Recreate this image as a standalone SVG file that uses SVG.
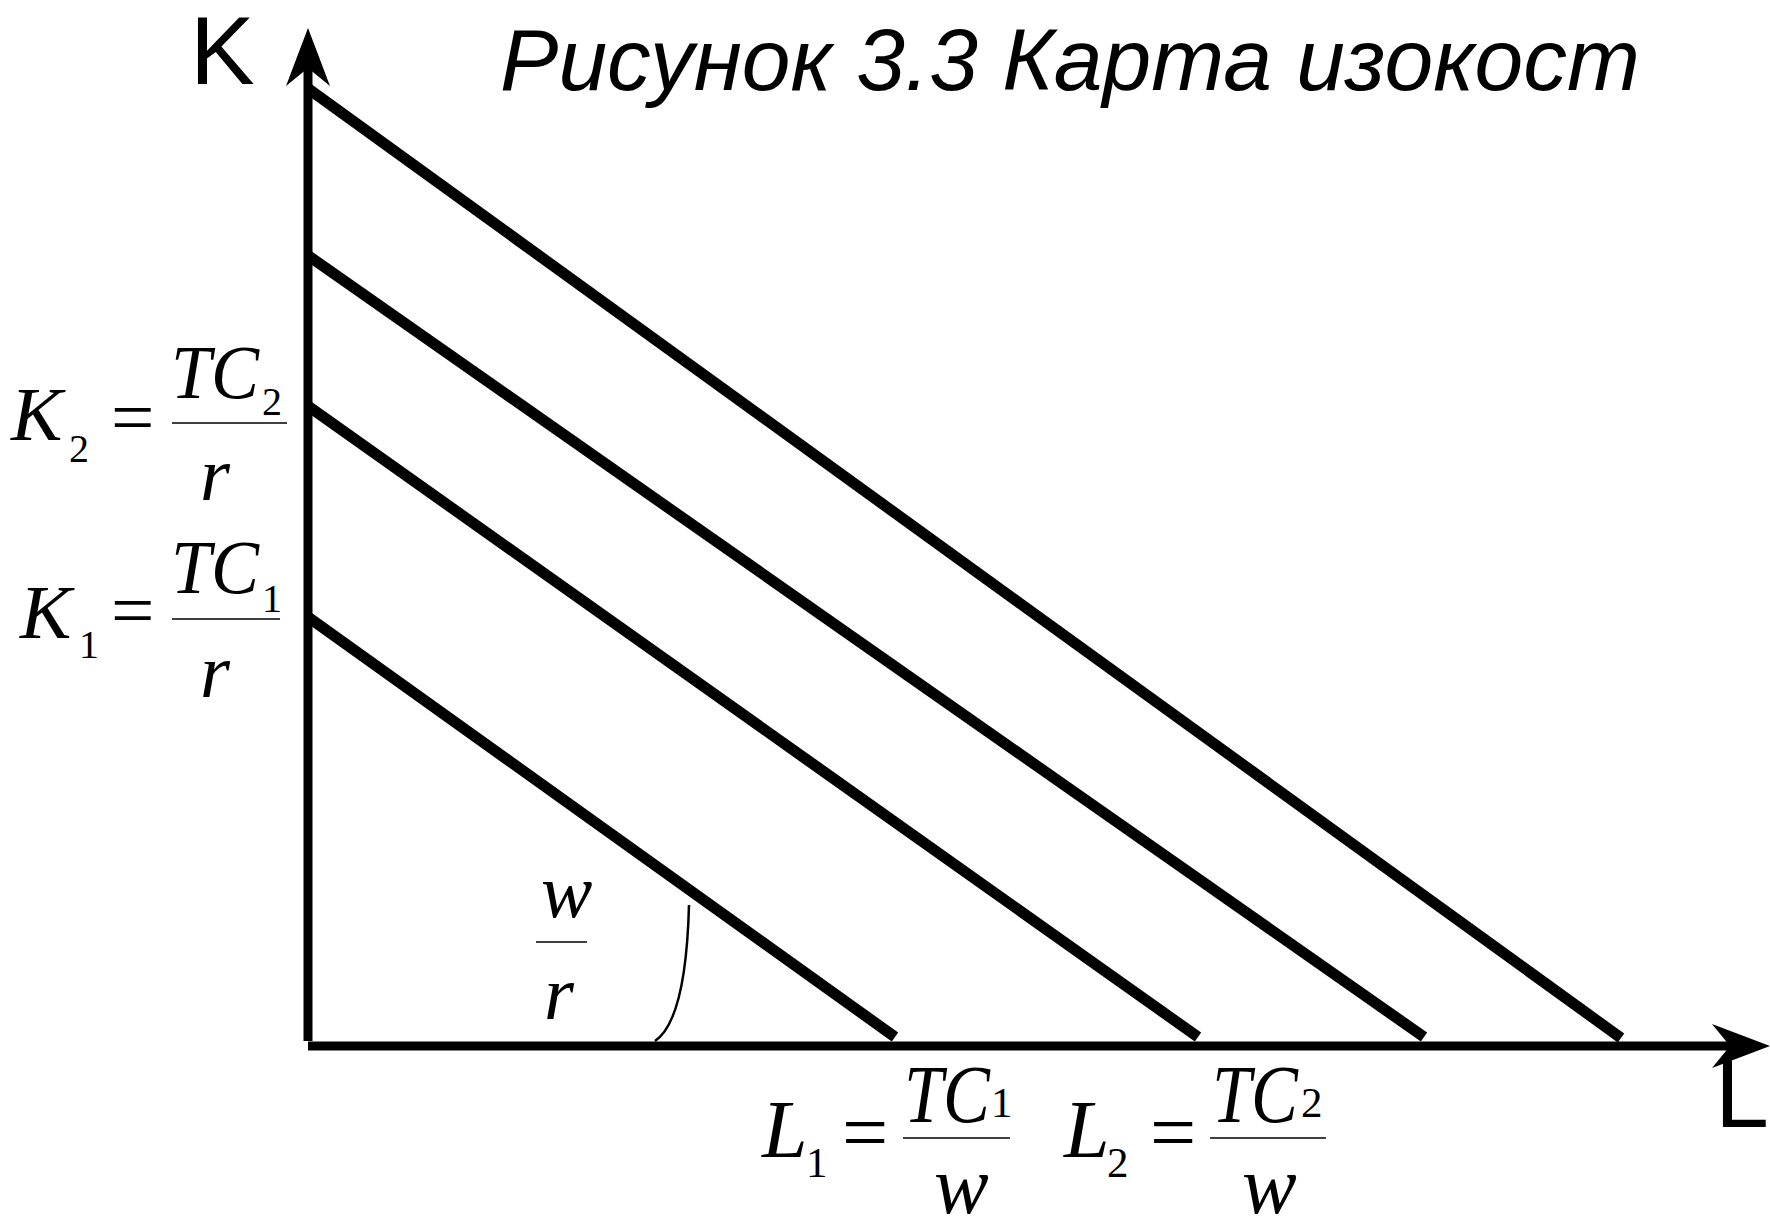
<svg xmlns="http://www.w3.org/2000/svg" width="1770" height="1218" viewBox="0 0 1770 1218">
<style>
.ax{stroke:#000;stroke-width:9;fill:none}
.iso{stroke:#000;stroke-width:11;fill:none;stroke-linecap:butt}
.thin{stroke:#000;stroke-width:1.6;fill:none}
.arc{stroke:#000;stroke-width:2.5;fill:none}
.m{font-family:"Liberation Serif","Times New Roman",serif;font-style:italic;font-size:77px;fill:#000}
.mu{font-family:"Liberation Serif","Times New Roman",serif;font-size:77px;fill:#000}
.s{font-family:"Liberation Serif","Times New Roman",serif;font-size:40px;fill:#000}
.mb{font-family:"Liberation Serif","Times New Roman",serif;font-style:italic;font-size:82px;fill:#000}
.mub{font-family:"Liberation Serif","Times New Roman",serif;font-size:82px;fill:#000}
.sb{font-family:"Liberation Serif","Times New Roman",serif;font-size:43px;fill:#000}
.axl{font-family:"Liberation Sans",Arial,sans-serif;font-size:97px;fill:#000}
.title{font-family:"Liberation Sans",Arial,sans-serif;font-style:italic;font-size:87px;fill:#000}
</style>
<defs>
<marker id="arr" markerUnits="userSpaceOnUse" viewBox="0 0 58 44" refX="18" refY="22" markerWidth="58" markerHeight="44" orient="auto">
<path d="M0,0 L58,22 L0,44 L18,22 Z" fill="#000"/>
</marker>
</defs>
<g id="title"><text class="title" x="500" y="90" textLength="1140" lengthAdjust="spacingAndGlyphs">Рисунок 3.3 Карта изокост</text></g>
<g id="connectors">
<line class="ax" x1="308" y1="1041" x2="308" y2="68" marker-end="url(#arr)"/>
<line class="ax" x1="308" y1="1046" x2="1730" y2="1046" marker-end="url(#arr)"/>
<line class="iso" x1="308" y1="88.5" x2="1621" y2="1038"/>
<line class="iso" x1="308" y1="255.5" x2="1424" y2="1037"/>
<line class="iso" x1="308" y1="406" x2="1198" y2="1037"/>
<line class="iso" x1="308" y1="617" x2="895" y2="1037"/>
<path class="arc" d="M655,1041 Q686,1020 689,905"/>
</g>
<g id="axis-K"><text class="axl" x="190" y="84">K</text></g>
<g id="axis-L"><text class="axl" x="1715" y="1127">L</text></g>
<g id="label-K2">
<text class="m" x="11" y="440">K</text><text class="s" x="69" y="462">2</text>
<text class="mu" x="111" y="443">=</text>
<text class="m" x="171" y="398" textLength="88" lengthAdjust="spacingAndGlyphs">TC</text><text class="s" x="262" y="415">2</text>
<line class="thin" x1="172" y1="423" x2="287" y2="423"/>
<text class="m" x="200" y="500">r</text>
</g>
<g id="label-K1">
<text class="m" x="20" y="638">K</text><text class="s" x="79" y="658">1</text>
<text class="mu" x="111" y="636">=</text>
<text class="m" x="171" y="593" textLength="88" lengthAdjust="spacingAndGlyphs">TC</text><text class="s" x="262" y="612">1</text>
<line class="thin" x1="172" y1="619" x2="280" y2="619"/>
<text class="m" x="200" y="697">r</text>
</g>
<g id="label-wr">
<text class="m" x="541" y="917">w</text>
<line class="thin" x1="536" y1="942" x2="587" y2="942"/>
<text class="m" x="544" y="1019">r</text>
</g>
<g id="label-L1">
<text class="mb" x="762" y="1157">L</text><text class="sb" x="806" y="1177">1</text>
<text class="mub" x="842" y="1160">=</text>
<text class="mb" x="904" y="1122" textLength="86" lengthAdjust="spacingAndGlyphs">TC</text><text class="sb" x="991" y="1117">1</text>
<line class="thin" x1="903" y1="1138" x2="1010" y2="1138"/>
<text class="mb" x="934" y="1213">w</text>
</g>
<g id="label-L2">
<text class="mb" x="1064" y="1157">L</text><text class="sb" x="1107" y="1177">2</text>
<text class="mub" x="1150" y="1160">=</text>
<text class="mb" x="1212" y="1122" textLength="86" lengthAdjust="spacingAndGlyphs">TC</text><text class="sb" x="1301" y="1117">2</text>
<line class="thin" x1="1210" y1="1138" x2="1326" y2="1138"/>
<text class="mb" x="1242" y="1213">w</text>
</g>
</svg>
